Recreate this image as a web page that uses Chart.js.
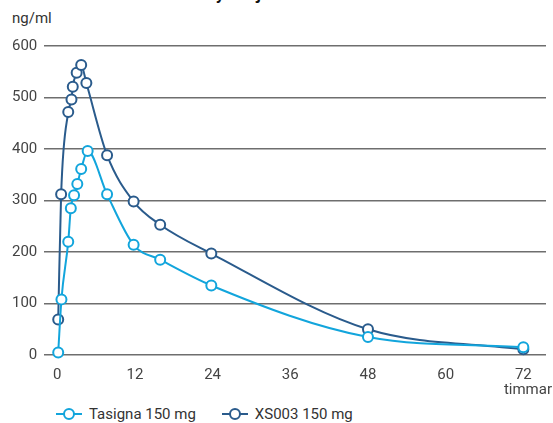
<!DOCTYPE html>
<html>
<head>
<meta charset="utf-8">
<script src="https://cdn.jsdelivr.net/npm/chart.js@4"></script>
<style>
    body { margin: 0; background: #fff; font-family: Roboto, sans-serif; }
    #wrap { position: relative; width: 553px; height: 423px; overflow: hidden; }
    #title { position: absolute; left: 40px; top: -16px; font: bold 17px Roboto, sans-serif; color: #111; white-space: nowrap; }
    #unit { position: absolute; left: 12px; top: 9px; font-size: 15px; color: #333; }
    #chartBox { position: absolute; left: 0; top: 0; width: 553px; height: 387px; }
    #hours { position: absolute; right: 1px; top: 380px; font-size: 15px; color: #444; }
    #legend { position: absolute; left: 56px; top: 405px; display: flex; gap: 26px; font-size: 15px; color: #333; }
    .item { display: flex; align-items: center; gap: 7px; }
</style>
</head>
<body>
<div id="wrap">
    <div id="title">Plasma levels in healthy subjects</div>
    <div id="unit">ng/ml</div>
    <div id="chartBox"><canvas id="chart"></canvas></div>
    <div id="hours">timmar</div>
    <div id="legend"></div>
</div>
<script>
// hours after dose
const hoursTasigna = [0.15, 0.65, 1.7, 2.1, 2.6, 3.1, 3.7, 4.7, 7.7, 11.8, 15.9, 23.8, 48, 72];
const hoursXS003 = [0.15, 0.6, 1.7, 2.2, 2.4, 3.0, 3.7, 4.5, 7.7, 11.8, 15.9, 23.8, 48, 72];
// concentration, ng/ml
const tasigna = [5, 108, 220, 285, 310, 332, 361, 396, 312, 214, 185, 135, 35, 15];
const xs003 = [69, 312, 472, 496, 521, 548, 563, 528, 388, 298, 253, 197, 50, 11];
const xTicks = [0, 12, 24, 36, 48, 60, 72];
const yTicks = [0, 100, 200, 300, 400, 500, 600];

const seriesNames = ["Tasigna 150 mg", "XS003 150 mg"];
const colors = ["#12a5dc", "#2a5b8c"];

function toPoints(xs, ys) {
    return xs.map((x, i) => ({ x: x, y: ys[i] }));
}

const datasets = [toPoints(hoursTasigna, tasigna), toPoints(hoursXS003, xs003)].map((pts, i) => ({
    label: seriesNames[i],
    data: pts,
    borderColor: colors[i],
    backgroundColor: "#fff",
    borderWidth: 2,
    pointRadius: 5,
    pointBorderWidth: 2,
    pointBackgroundColor: "#fff",
    cubicInterpolationMode: "monotone",
    clip: false
}));

new Chart(document.getElementById("chart"), {
    type: "line",
    data: { datasets: datasets },
    options: {
        responsive: true,
        maintainAspectRatio: false,
        animation: false,
        layout: { padding: { left: 5, right: 0, top: 46, bottom: 0 } },
        plugins: { legend: { display: false }, tooltip: { enabled: false } },
        scales: {
            x: {
                type: "linear",
                min: -2,
                max: 75.5,
                afterBuildTicks: axis => { axis.ticks = xTicks.map(v => ({ value: v })); },
                grid: { display: false },
                border: { display: false },
                ticks: {
                    color: "#444",
                    font: { family: "Roboto", size: 15 },
                    padding: 3,
                    maxRotation: 0,
                    autoSkip: false
                }
            },
            y: {
                min: 0,
                max: 600,
                afterBuildTicks: axis => { axis.ticks = yTicks.map(v => ({ value: v })); },
                grid: { color: "#6e6e6e", lineWidth: 1.5, drawTicks: false },
                border: { display: false },
                ticks: {
                    color: "#444",
                    font: { family: "Roboto", size: 15 },
                    padding: 7
                }
            }
        }
    }
});

// legend: line with a hollow circle in the middle
const legend = document.getElementById("legend");
seriesNames.forEach((name, i) => {
    const item = document.createElement("div");
    item.className = "item";
    item.innerHTML =
        '<svg width="26" height="14"><line x1="0" y1="7" x2="26" y2="7" stroke="' + colors[i] + '" stroke-width="2"/>' +
        '<circle cx="13" cy="7" r="5" fill="#fff" stroke="' + colors[i] + '" stroke-width="2"/></svg>' +
        '<span>' + name + '</span>';
    legend.appendChild(item);
});
</script>
</body>
</html>
